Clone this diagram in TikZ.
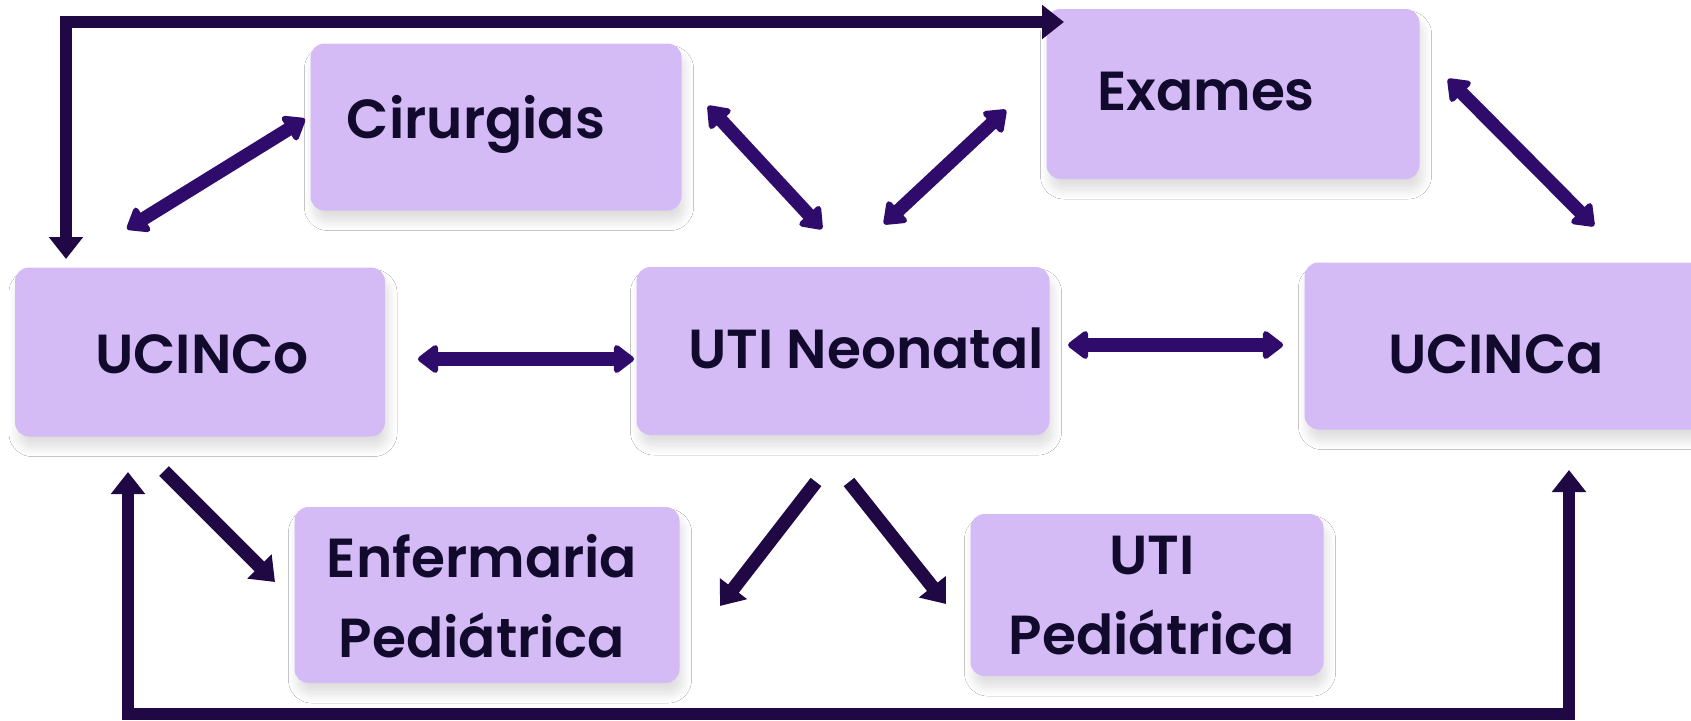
\documentclass[tikz,border=0pt]{standalone}
\usepackage{fontspec}
\setmainfont{Poppins SemiBold}
\usetikzlibrary{arrows.meta,shadows.blur}
\definecolor{boxfill}{HTML}{D4BBF6}
\definecolor{arrowc}{HTML}{2F0C6B}
\definecolor{loopc}{HTML}{200845}
\definecolor{txt}{HTML}{110A2C}
\begin{document}
\begin{tikzpicture}[x=1pt,y=-1pt,
  box/.style={fill=boxfill, rounded corners=14pt, inner sep=0pt,
    blur shadow={shadow xshift=3pt, shadow yshift=-11pt, shadow opacity=13, shadow blur radius=9pt, shadow blur steps=10}},
  lbl/.style={text=txt, font=\fontsize{55}{80}\selectfont, align=center, inner sep=0pt},
  dbl/.style={draw=arrowc, line width=13.5pt, {Triangle[length=22pt,width=32pt,round]}-{Triangle[length=22pt,width=32pt,round]}},
  one/.style={draw=loopc, line width=13.5pt, -{Triangle[length=22pt,width=33pt]}},
  loopline/.style={draw=loopc, line width=12.5pt, {Triangle[length=22pt,width=33pt]}-{Triangle[length=22pt,width=33pt]}}
]
\clip (0,0) rectangle (1691,720);
\fill[white] (0,0) rectangle (1691,720);

% boxes
\node[box, minimum width=371pt, minimum height=167pt] (cir) at (496,127) {};
\node[box, minimum width=373pt, minimum height=170pt] (exa) at (1233,94) {};
\node[box, minimum width=370pt, minimum height=169pt] (uco) at (200,352) {};
\node[box, minimum width=413pt, minimum height=168pt] (utin) at (843,351) {};
\node[box, minimum width=415pt, minimum height=167pt] (uca) at (1512,346) {};
\node[box, minimum width=385pt, minimum height=176pt] (enf) at (487,595) {};
\node[box, minimum width=353pt, minimum height=162pt] (utip) at (1147,595) {};

% labels
\node[lbl] (tcir) at (476,124) {Cirurgias};
\node[lbl] (texa) at (1206,92) {Exames};
\node[lbl] (tuco) at (202,354) {UCINCo};
\node[lbl] (tutin) at (866,348) {UTI Neonatal};
\node[lbl] (tuca) at (1496,354) {UCINCa};
\node[lbl] (tenf) at (482,596) {Enfermaria\\Pediátrica};
\node[lbl] (tutip) at (1152,596) {UTI\\Pediátrica};

% connector end points
\coordinate (a1) at (127,229); \coordinate (a2) at (305,119);
\coordinate (b1) at (708,106); \coordinate (b2) at (822,229);
\coordinate (c1) at (1006,110); \coordinate (c2) at (884,224);
\coordinate (d1) at (1448,79); \coordinate (d2) at (1594,226);
\coordinate (e1) at (418,359); \coordinate (e2) at (634,359);
\coordinate (f1) at (1068,345); \coordinate (f2) at (1283,345);
\coordinate (g1) at (164,471); \coordinate (g2) at (275,582);
\coordinate (h1) at (816,482); \coordinate (h2) at (720,606);
\coordinate (i1) at (849,482); \coordinate (i2) at (946,604);
\coordinate (top1) at (66,259); \coordinate (top2) at (1064,22);
\coordinate (bot1) at (128,472); \coordinate (bot2) at (1569,470);

% double arrows
\draw[dbl] (a1) -- (a2);
\draw[dbl] (b1) -- (b2);
\draw[dbl] (c1) -- (c2);
\draw[dbl] (d1) -- (d2);
\draw[dbl] (e1) -- (e2);
\draw[dbl] (f1) -- (f2);

% single arrows
\draw[one] (g1) -- (g2);
\draw[one] (h1) -- (h2);
\draw[one] (i1) -- (i2);

% loops
\draw[loopline] (top1) |- (top2);
\draw[loopline] (bot1) -- (128,714) -| (bot2);
\end{tikzpicture}
\end{document}
